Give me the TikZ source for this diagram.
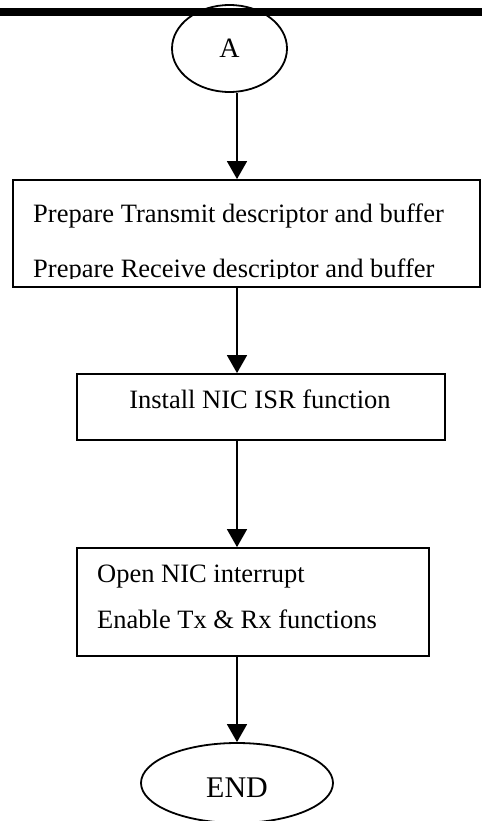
\documentclass[tikz,border=0pt]{standalone}
\usepackage{fontspec}
\setmainfont{Liberation Serif}
\usetikzlibrary{arrows.meta,shapes.geometric}

\begin{document}
\begin{tikzpicture}[x=1pt, y=-1pt,
        every node/.style={font=\fontsize{26.5}{32}\selectfont},
        box/.style={draw, line width=1.8pt, inner sep=0pt},
        oval/.style={draw, ellipse, line width=1.8pt, inner sep=0pt},
        flow/.style={-{Triangle[length=18pt, width=20pt]}, line width=1.6pt},
    ]
    \useasboundingbox (0,0) rectangle (482,821);

    % Header rule
    \draw[line width=8pt] (0,12) -- (482,12);

    % Entry point
    \node[oval, minimum width=115pt, minimum height=87pt,
          font=\fontsize{28}{34}\selectfont] (start) at (229.5,48.5) {A};

    % Descriptors
    \node[box, minimum width=467pt, minimum height=107pt] (prep) at (246.5,233.5) {};
    \node[anchor=base west, inner sep=0pt] (preptx) at (33,222)
          {Prepare Transmit descriptor and buffer};
    \coordinate (rxbase) at (33,277);
    \begin{scope}
        \clip (prep.north west) rectangle ([yshift=-1.5pt]prep.east |- rxbase);
        \node[anchor=base west, inner sep=0pt] (preprx) at (rxbase)
              {Prepare Receive descriptor and buffer};
    \end{scope}

    % ISR
    \node[box, minimum width=368pt, minimum height=66pt] (isr) at (261,407) {};
    \node[anchor=base, inner sep=0pt] (isrtx) at (260,408) {Install NIC ISR function};

    % Interrupt
    \node[box, minimum width=352pt, minimum height=108pt] (irq) at (253,602) {};
    \node[anchor=base west, inner sep=0pt] (irqopen) at (97,582) {Open NIC interrupt};
    \node[anchor=base west, inner sep=0pt] (irqen) at (97,628) {Enable Tx \& Rx functions};

    % End
    \node[oval, minimum width=192pt, minimum height=80pt, text height=30pt,
          font=\fontsize{30}{36}\selectfont] (stop) at (237,783) {END};

    % Arrows
    \draw[flow] (start.south -| stop) -- (prep.north -| stop);
    \draw[flow] (prep.south -| stop) -- (isr.north -| stop);
    \draw[flow] (isr.south -| stop) -- (irq.north -| stop);
    \draw[flow] (irq.south -| stop) -- (stop.north);
\end{tikzpicture}
\end{document}
